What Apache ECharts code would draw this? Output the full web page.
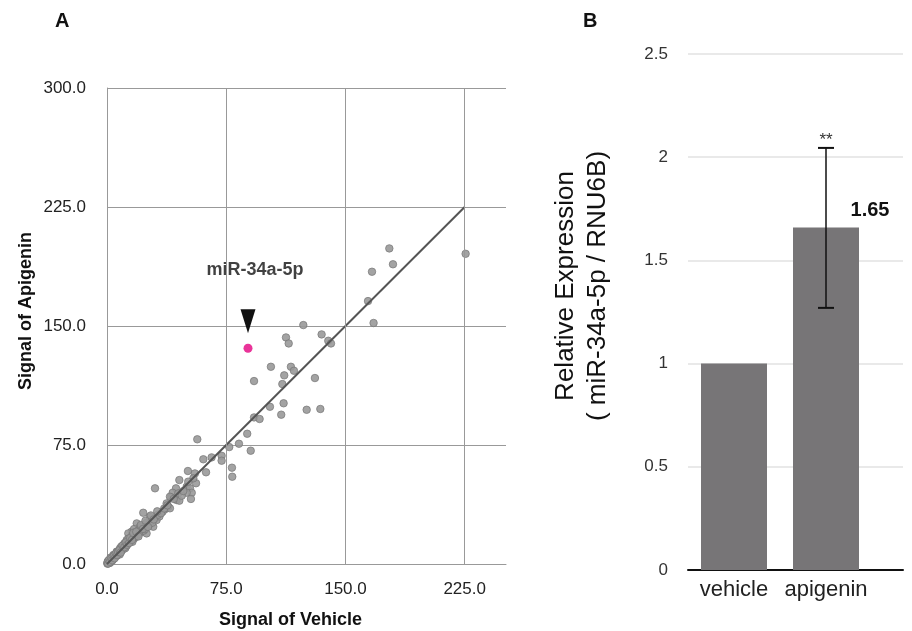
<!DOCTYPE html>
<html><head><meta charset="utf-8">
<script src="https://cdn.jsdelivr.net/npm/echarts@6/dist/echarts.min.js"></script>
<style>html,body{margin:0;padding:0;background:#fff}#c{width:912px;height:631px}</style>
</head><body><div id="c"></div>
<script>
// ---------- Panel A data ----------
const grayPoints = [
  [225.6,195.5],[177.6,198.9],[179.9,188.9],[166.7,184.2],[164.2,165.7],[167.7,151.9],
  [123.5,150.6],[112.6,142.8],[114.3,139.0],[135.0,144.7],[139.2,140.7],[140.9,139.0],
  [103.1,124.3],[115.7,124.3],[117.6,121.8],[111.5,118.9],[92.5,115.3],[130.8,117.2],[110.3,113.4],
  [102.5,99.1],[111.1,101.3],[109.6,94.1],[125.6,97.2],[134.2,97.7],[92.5,92.4],[96.0,91.4],
  [88.2,82.1],[83.0,75.8],[76.9,73.7],[90.4,71.4],[56.8,78.6],[60.6,66.0],[65.8,67.2],[72.1,68.2],[72.1,65.1],
  [78.6,60.7],[78.8,55.0],[62.3,57.8],[50.9,58.6],[55.3,57.1],[45.5,52.9],[30.2,47.7],
  [43.4,47.7],[41.3,44.9],[40.3,42.0],[43.8,40.3],[50.1,48.7],[52.2,47.7],[53.3,44.9],[50.1,44.9],[52.8,41.0],[45.5,39.9],
  [56.0,50.9],[54.3,54.0],[51.1,51.9],[38.6,36.1],[36.5,34.5],[39.6,35.1],[22.8,32.3],[27.0,29.8],[30.2,28.8],
  [18.7,25.6],[15.5,20.4],[13.4,19.3],[12.4,15.1],[10.3,12.0],[8.2,9.9],[6.1,7.8],[4.0,5.7],[1.9,2.5],
  [24.9,19.3],[29.1,23.5],[31.2,27.7],[37.5,38.2],[39.6,42.4],[44.8,44.5],[20.8,23.5],[17.0,22.0],[19.5,21.0],
  [22.0,24.0],[25.0,26.0],[26.0,24.0],[33.0,30.0],[35.0,33.0],[28.0,27.0],[16.0,18.0],[14.0,14.0],[11.0,13.0],
  [9.0,11.0],[7.0,8.0],[5.0,6.0],[3.0,4.0],[2.0,3.0],[1.0,1.5],[0.5,0.8],[0.3,0.2],[1.5,1.0],[2.5,2.0],
  [3.5,3.0],[4.5,4.0],[6.0,5.0],[7.5,6.5],[9.0,8.0],[10.5,9.5],[12.0,11.0],[13.0,12.5],[15.0,14.0],[17.0,16.0],
  [19.0,18.0],[21.0,20.0],[23.0,21.0],[0.8,2.0],[1.2,0.5],[2.0,0.8],[0.5,1.5],[2.2,4.0],[3.0,1.8],[4.0,3.0],
  [5.0,4.5],[6.5,7.0],[8.0,6.0],[9.5,10.0],[11.5,10.0],[13.5,16.0],[16.0,14.0],[18.0,17.0],[20.0,19.0],
  [21.5,23.0],[24.0,22.0],[26.5,25.0],[28.5,26.0],[32.0,31.0],[34.0,32.0],[36.0,35.0],[38.0,37.0],
  [42.0,41.0],[47.0,43.0],[48.0,46.0],
  [0.2,0.6],[0.7,0.3],[1.1,2.3],[1.8,1.4],[2.7,3.4],[3.3,2.4],[4.3,5.1],[4.8,3.6],[5.6,6.6],[6.3,5.6],
  [7.0,7.6],[7.9,8.8],[8.6,7.2],[9.8,11.6],[10.9,10.6],[11.8,13.6],[12.7,12.1],[13.9,13.2],[14.6,16.4],[15.7,15.2],
  [16.5,19.6],[18.4,20.3],[19.8,17.4],[21.3,24.6],[22.6,22.1],[24.2,27.3],[25.8,23.4],[27.6,30.6],[29.4,28.1],[31.6,33.2]
];
const highlightPoint = [88.7, 136.0];
const highlightName = 'miR-34a-5p';
const diagonalLine = [[0, 0], [225, 225]];
const scatterVerticalGrid = [75, 150, 225];

// ---------- Panel B data ----------
const barCategories = ['vehicle', 'apigenin'];
const barValues = [1.0, 1.66];
const barValueLabels = ['', '1.65'];
const errLow = [null, 1.27];
const errHigh = [null, 2.045];
const sigMarks = ['', '**'];

const FONT = 'Liberation Sans, Arial, sans-serif';
const chart = echarts.init(document.getElementById('c'), null, {renderer: 'canvas'});

const errData = [];
barCategories.forEach((c, i) => {
  if (errLow[i] != null) errData.push([i, errLow[i], errHigh[i], sigMarks[i]]);
});

const option = {
  animation: false,
  backgroundColor: '#fff',
  textStyle: {fontFamily: FONT},
  grid: [
    {left: 107, top: 88, width: 399, height: 476, containLabel: false, outerBoundsMode: 'none'},
    {left: 688, top: 54, width: 215, height: 516, containLabel: false, outerBoundsMode: 'none'},
    {left: 688, top: 54, width: 184, height: 516, containLabel: false, outerBoundsMode: 'none'}
  ],
  graphic: [
    {type: 'text', left: 55, top: 11, style: {text: 'A', font: 'bold 20px ' + FONT, fill: '#111'}},
    {type: 'text', left: 583, top: 11, style: {text: 'B', font: 'bold 20px ' + FONT, fill: '#111'}}
  ],
  xAxis: [
    {
      gridIndex: 0, type: 'value', min: 0, max: 251, interval: 75,
      axisLine: {show: true, lineStyle: {color: '#999', width: 1}},
      axisTick: {show: false},
      splitLine: {show: false},
      axisLabel: {showMaxLabel: false, formatter: v => v.toFixed(1), color: '#222', fontSize: 17, margin: 17, fontFamily: FONT},
      name: 'Signal of Vehicle', nameLocation: 'middle', nameGap: 47,
      nameTextStyle: {fontWeight: 'bold', fontSize: 18, color: '#111', padding: [0, 32, 0, 0], fontFamily: FONT}
    },
    {
      gridIndex: 1, type: 'value', min: 0, max: 1,
      axisLine: {show: true, lineStyle: {color: '#111', width: 2}},
      axisTick: {show: false}, axisLabel: {show: false}, splitLine: {show: false}
    },
    {
      gridIndex: 2, type: 'category', data: barCategories,
      axisLine: {show: false}, axisTick: {show: false},
      axisLabel: {interval: 0, color: '#222', fontSize: 22, margin: 9, fontFamily: FONT}
    }
  ],
  yAxis: [
    {
      gridIndex: 0, type: 'value', min: 0, max: 300, interval: 75,
      axisLine: {show: true, lineStyle: {color: '#999', width: 1}},
      axisTick: {show: false},
      splitLine: {show: true, lineStyle: {color: '#999', width: 1}},
      axisLabel: {formatter: v => v.toFixed(1), color: '#222', fontSize: 17, margin: 21, fontFamily: FONT},
      name: 'Signal of Apigenin', nameLocation: 'middle', nameGap: 72,
      nameTextStyle: {fontWeight: 'bold', fontSize: 18, color: '#111', padding: [0, 0, 0, 30], fontFamily: FONT}
    },
    {
      gridIndex: 1, type: 'value', min: 0, max: 2.5, interval: 0.5,
      axisLine: {show: false}, axisTick: {show: false},
      splitLine: {show: true, lineStyle: {color: '#e2e2e2', width: 1.5}},
      axisLabel: {color: '#333', fontSize: 17, margin: 20, fontFamily: FONT},
      name: 'Relative Expression\n( miR-34a-5p / RNU6B)', nameLocation: 'middle', nameGap: 74,
      nameTextStyle: {fontSize: 26, lineHeight: 32, color: '#111', padding: [0, 0, 0, 52], fontFamily: FONT}
    },
    {
      gridIndex: 2, type: 'value', min: 0, max: 2.5, interval: 0.5, show: false
    }
  ],
  series: [
    {
      type: 'scatter', xAxisIndex: 0, yAxisIndex: 0, data: [], silent: true, z: 1,
      markLine: {
        silent: true, symbol: ['none', 'none'], label: {show: false},
        lineStyle: {color: '#999', width: 1, type: 'solid'},
        data: scatterVerticalGrid.map(v => ({xAxis: v}))
      }
    },
    {
      type: 'scatter', xAxisIndex: 0, yAxisIndex: 0, data: grayPoints, symbolSize: 7.5, z: 2,
      itemStyle: {color: '#999999', borderColor: '#777', borderWidth: 0.8, opacity: 0.9}
    },
    {
      type: 'line', xAxisIndex: 0, yAxisIndex: 0, data: diagonalLine, symbol: 'none', z: 3,
      lineStyle: {color: '#555', width: 2}
    },
    {
      type: 'scatter', xAxisIndex: 0, yAxisIndex: 0, data: [highlightPoint], symbolSize: 9, z: 4,
      itemStyle: {color: '#e4007f'},
      label: {show: true, formatter: highlightName, position: 'top', offset: [7, -60],
        fontWeight: 'bold', fontSize: 18, color: '#111', fontFamily: FONT},
      markPoint: {
        silent: true, symbol: 'triangle', symbolSize: [15, 24], symbolRotate: 180, symbolOffset: [0, -27],
        itemStyle: {color: '#111'}, label: {show: false},
        data: [{coord: highlightPoint}]
      }
    },
    {
      type: 'bar', xAxisIndex: 2, yAxisIndex: 2, barWidth: 66,
      data: barValues.map((v, i) => ({
        value: v,
        label: {show: barValueLabels[i] !== '', formatter: barValueLabels[i], position: 'top',
          offset: [44, -2], fontWeight: 'bold', fontSize: 20, color: '#111', fontFamily: FONT}
      })),
      itemStyle: {color: '#777577'}
    },
    {
      type: 'custom', xAxisIndex: 2, yAxisIndex: 2, data: errData, z: 5,
      renderItem: function (params, api) {
        const idx = api.value(0);
        const top = api.coord([idx, api.value(2)]);
        const bot = api.coord([idx, api.value(1)]);
        const w = 8;
        const mark = errData[params.dataIndex][3];
        return {
          type: 'group',
          children: [
            {type: 'line', shape: {x1: top[0], y1: top[1], x2: bot[0], y2: bot[1]}, style: {stroke: '#111', lineWidth: 1.5}},
            {type: 'line', shape: {x1: top[0] - w, y1: top[1], x2: top[0] + w, y2: top[1]}, style: {stroke: '#111', lineWidth: 2}},
            {type: 'line', shape: {x1: bot[0] - w, y1: bot[1], x2: bot[0] + w, y2: bot[1]}, style: {stroke: '#111', lineWidth: 2}},
            {type: 'text', style: {text: mark, x: top[0], y: top[1] + 1, textAlign: 'center', textVerticalAlign: 'bottom',
              font: '17px ' + FONT, fill: '#333'}}
          ]
        };
      }
    }
  ]
};
chart.setOption(option);
</script>
</body></html>
